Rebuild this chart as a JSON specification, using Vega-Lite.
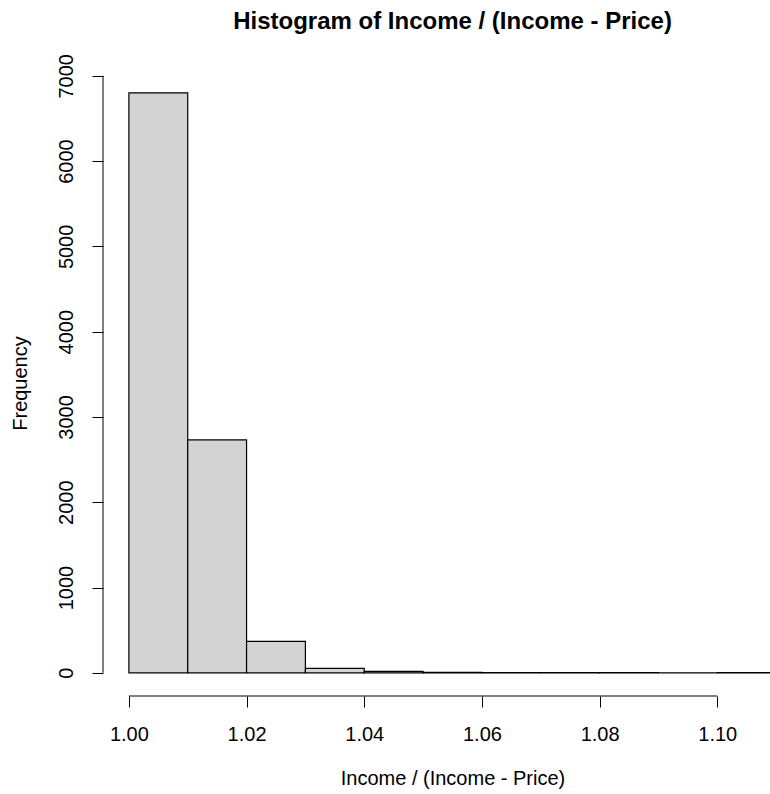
{
  "$schema": "https://vega.github.io/schema/vega-lite/v6.json",
  "width": 699,
  "height": 626,
  "autosize": "none",
  "padding": {"left": 103, "top": 70, "right": 0, "bottom": 98},
  "background": "white",
  "config": {"view": {"stroke": null}, "font": "Liberation Sans"},
  "title": {
    "text": "Histogram of Income / (Income - Price)",
    "fontSize": 24,
    "fontWeight": "bold",
    "font": "Liberation Sans",
    "anchor": "middle",
    "frame": "group",
    "offset": 20,
    "color": "black"
  },
  "datasets": {
    "bins": [
      {"bin_start": 1.00, "bin_end": 1.01, "count": 6800},
      {"bin_start": 1.01, "bin_end": 1.02, "count": 2730},
      {"bin_start": 1.02, "bin_end": 1.03, "count": 368},
      {"bin_start": 1.03, "bin_end": 1.04, "count": 52},
      {"bin_start": 1.04, "bin_end": 1.05, "count": 16},
      {"bin_start": 1.05, "bin_end": 1.06, "count": 5},
      {"bin_start": 1.06, "bin_end": 1.07, "count": 2},
      {"bin_start": 1.07, "bin_end": 1.08, "count": 1},
      {"bin_start": 1.08, "bin_end": 1.09, "count": 1},
      {"bin_start": 1.09, "bin_end": 1.10, "count": 0},
      {"bin_start": 1.10, "bin_end": 1.11, "count": 1}
    ],
    "xline": [{"from": 1.00, "to": 1.10}],
    "yline": [{"from": 0, "to": 7000}]
  },
  "layer": [
    {
      "data": {"name": "bins"},
      "mark": {"type": "rect", "fill": "#d3d3d3", "stroke": "black", "strokeWidth": 1.2, "clip": true},
      "encoding": {
        "x": {
          "field": "bin_start",
          "type": "quantitative",
          "scale": {"domain": [0.9956, 1.1144], "nice": false, "zero": false},
          "axis": {
            "values": [1.00, 1.02, 1.04, 1.06, 1.08, 1.10],
            "format": ".2f",
            "domain": false,
            "grid": false,
            "tickSize": 11,
            "tickColor": "black",
            "tickWidth": 1,
            "labelFontSize": 20,
            "labelFont": "Liberation Sans",
            "labelColor": "black",
            "labelPadding": 17,
            "labelFlush": false,
            "labelOverlap": false,
            "title": "Income / (Income - Price)",
            "titleFont": "Liberation Sans",
            "titleFontSize": 20,
            "titleFontWeight": "normal",
            "titleColor": "black",
            "titlePadding": 24
          }
        },
        "x2": {"field": "bin_end"},
        "y": {
          "field": "count",
          "type": "quantitative",
          "scale": {"domain": [-272, 7068], "nice": false, "zero": false},
          "axis": {
            "values": [0, 1000, 2000, 3000, 4000, 5000, 6000, 7000],
            "format": "d",
            "domain": false,
            "grid": false,
            "tickSize": 11,
            "tickColor": "black",
            "tickWidth": 1,
            "labelAngle": -90,
            "labelAlign": "center",
            "labelBaseline": "bottom",
            "labelFontSize": 20,
            "labelFont": "Liberation Sans",
            "labelColor": "black",
            "labelPadding": 16,
            "labelFlush": false,
            "labelOverlap": false,
            "title": "Frequency",
            "titleFont": "Liberation Sans",
            "titleFontSize": 20,
            "titleFontWeight": "normal",
            "titleColor": "black",
            "titlePadding": 26
          }
        },
        "y2": {"datum": 0}
      }
    },
    {
      "data": {"name": "xline"},
      "mark": {"type": "rule", "color": "black", "strokeWidth": 1},
      "encoding": {
        "x": {"field": "from", "type": "quantitative"},
        "x2": {"field": "to"},
        "y": {"datum": -272}
      }
    },
    {
      "data": {"name": "yline"},
      "mark": {"type": "rule", "color": "black", "strokeWidth": 1},
      "encoding": {
        "y": {"field": "from", "type": "quantitative"},
        "y2": {"field": "to"},
        "x": {"datum": 0.9956}
      }
    }
  ]
}
